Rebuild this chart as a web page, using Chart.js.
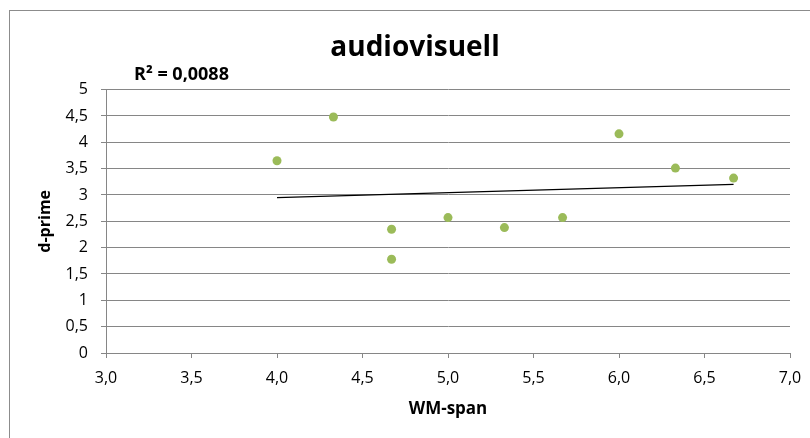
<!DOCTYPE html>
<html>
<head>
<meta charset="utf-8">
<script src="https://cdn.jsdelivr.net/npm/chart.js@4/dist/chart.umd.min.js"></script>
<style>
    html, body { margin: 0; padding: 0; background: #fff; }
    #wrap { width: 810px; height: 438px; position: relative; }
</style>
</head>
<body>
<div id="wrap"><canvas id="chart"></canvas></div>
<script>
// === DATA ===
const wmSpan = [4.0, 4.33, 4.67, 4.67, 5.0, 5.33, 5.67, 6.0, 6.33, 6.67];
const dPrime = [3.65, 4.48, 2.35, 1.78, 2.57, 2.38, 2.57, 4.16, 3.51, 3.32];
const trendX = [4.0, 6.67];
const trendY = [2.95, 3.20];
const rSquaredLabel = 'R² = 0,0088';
const chartTitle = 'audiovisuell';
const xTitle = 'WM-span';
const yTitle = 'd-prime';

const FONT = "'Open Sans', 'DejaVu Sans', sans-serif";
const GRID = '#868686';
const POINT = '#9BBB59';

// comma decimals like the original
const fmtX = v => v.toFixed(1).replace('.', ',');
const fmtY = v => String(Math.round(v * 10) / 10).replace('.', ',');

// outer frame + R² label
const framePlugin = {
    id: 'frame',
    beforeDraw(chart) {
        const ctx = chart.ctx;
        ctx.save();
        ctx.strokeStyle = '#8c8c8c';
        ctx.lineWidth = 1;
        ctx.strokeRect(9.5, 10.5, 820, 440);
        ctx.restore();
    },
    afterDraw(chart) {
        const ctx = chart.ctx;
        ctx.save();
        ctx.font = 'bold 18px ' + FONT;
        ctx.fillStyle = '#000';
        ctx.textBaseline = 'alphabetic';
        ctx.fillText(rSquaredLabel, 134, 80);
        ctx.restore();
    }
};

const points = wmSpan.map((x, i) => ({ x: x, y: dPrime[i] }));
const trend = trendX.map((x, i) => ({ x: x, y: trendY[i] }));

new Chart(document.getElementById('chart'), {
    type: 'scatter',
    data: {
        datasets: [
            {
                data: points,
                backgroundColor: POINT,
                borderWidth: 0,
                pointRadius: 4.5,
                order: 1
            },
            {
                data: trend,
                showLine: true,
                borderColor: '#000',
                borderWidth: 1.3,
                pointRadius: 0,
                order: 2
            }
        ]
    },
    options: {
        responsive: true,
        maintainAspectRatio: false,
        animation: false,
        layout: { padding: { left: 20, right: 0, top: 0, bottom: 0 } },
        plugins: {
            legend: { display: false },
            tooltip: { enabled: false },
            title: {
                display: true,
                text: chartTitle,
                color: '#000',
                font: { family: FONT, size: 28, weight: 'bold' },
                padding: { top: 31, bottom: 25 }
            }
        },
        scales: {
            x: {
                type: 'linear',
                min: 3,
                max: 7,
                ticks: {
                    stepSize: 0.5,
                    color: '#000',
                    padding: 11,
                    maxRotation: 0,
                    font: { family: FONT, size: 16 },
                    callback: v => fmtX(v)
                },
                grid: { drawOnChartArea: false, drawTicks: true, tickLength: 5, color: GRID },
                border: { color: GRID, width: 1 },
                title: {
                    display: true,
                    text: xTitle,
                    color: '#000',
                    font: { family: FONT, size: 17, weight: 'bold' },
                    padding: { top: 0, bottom: 19 }
                },
                afterFit(scale) {
                    scale.height = 85;
                    scale.paddingRight = 20;
                }
            },
            y: {
                type: 'linear',
                min: 0,
                max: 5,
                ticks: {
                    stepSize: 0.5,
                    color: '#000',
                    padding: 13,
                    font: { family: FONT, size: 16 },
                    callback: v => fmtY(v)
                },
                grid: { color: GRID, tickLength: 5, lineWidth: 1 },
                border: { color: GRID, width: 1 },
                title: {
                    display: true,
                    text: yTitle,
                    color: '#000',
                    font: { family: FONT, size: 16, weight: 'bold' },
                    padding: { top: 16, bottom: 0 }
                },
                afterFit(scale) {
                    scale.width = 86;
                }
            }
        }
    },
    plugins: [framePlugin]
});
</script>
</body>
</html>
